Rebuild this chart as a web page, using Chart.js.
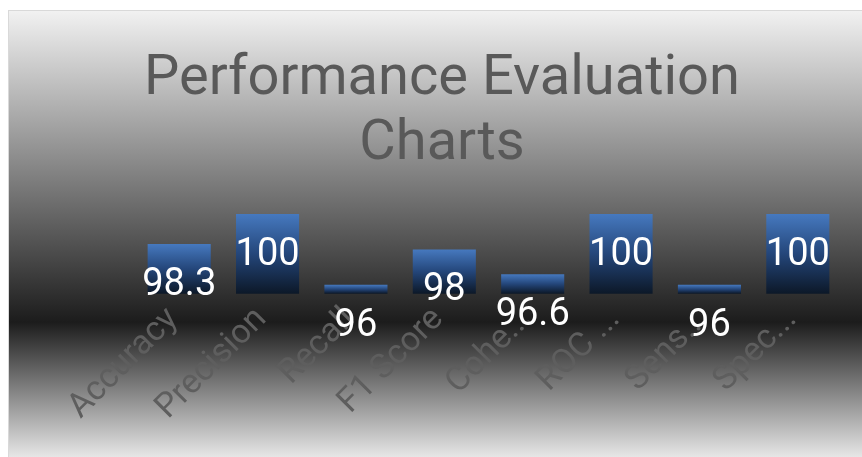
<!DOCTYPE html>
<html>
<head>
<meta charset="utf-8">
<title>Performance Evaluation Charts</title>
<script src="https://cdn.jsdelivr.net/npm/chart.js@4.4.1/dist/chart.umd.min.js"></script>
<style>
  html, body { margin: 0; padding: 0; background: #ffffff; }
  #wrap { width: 862px; height: 457px; }
</style>
</head>
<body>
<div id="wrap"><canvas id="chart" width="862" height="457"></canvas></div>
<script>
// values
const categories = ['Accuracy', 'Precision', 'Recall', 'F1 Score', 'Cohe...', 'ROC ...', 'Sens...', 'Spec...'];
const scores = [98.3, 100, 96, 98, 96.6, 100, 96, 100];
const axisMin = 95.5;
const axisMax = 100;
const titleLines = ['Performance Evaluation', 'Charts'];

// grey "spotlight" background inside the chart frame
const frameBackground = {
    id: 'frameBackground',
    beforeDraw(chart) {
        const c = chart.ctx;
        const g = c.createLinearGradient(0, 10, 0, 465);
        g.addColorStop(0, '#f2f2f2');
        g.addColorStop(0.686, '#1c1c1c');
        g.addColorStop(1, '#f2f2f2');
        c.save();
        c.fillStyle = g;
        c.fillRect(8, 10, chart.width - 8, chart.height - 10);
        c.strokeStyle = '#d9d9d9';
        c.lineWidth = 1;
        c.strokeRect(8.5, 10.5, chart.width, chart.height);
        c.restore();
    }
};

// white value labels, drawn inside each bar near its top
const valueLabels = {
    id: 'valueLabels',
    afterDatasetsDraw(chart) {
        const c = chart.ctx;
        const meta = chart.getDatasetMeta(0);
        c.save();
        c.font = '38px Roboto';
        c.fillStyle = '#ffffff';
        c.textAlign = 'center';
        c.textBaseline = 'alphabetic';
        meta.data.forEach((bar, i) => {
            c.fillText(String(scores[i]), bar.x, bar.y + 51);
        });
        c.restore();
    }
};

function barGradient(ctx) {
    const chart = ctx.chart;
    if (ctx.type !== 'data' || !chart.chartArea) {
        return '#2b5590';
    }
    const y = chart.scales.y;
    const top = y.getPixelForValue(ctx.raw);
    const bottom = y.getPixelForValue(axisMin);
    const g = chart.ctx.createLinearGradient(0, top, 0, bottom);
    g.addColorStop(0, '#4679bf');
    g.addColorStop(0.5, '#24467a');
    g.addColorStop(1, '#0c1828');
    return g;
}

new Chart(document.getElementById('chart'), {
    type: 'bar',
    data: {
        labels: categories,
        datasets: [{
            label: 'Score',
            data: scores,
            backgroundColor: barGradient,
            borderWidth: 0,
            categoryPercentage: 1,
            barPercentage: 0.714
        }]
    },
    options: {
        responsive: false,
        animation: false,
        devicePixelRatio: 1,
        layout: {
            padding: { left: 42, right: 20, top: 0, bottom: 23 }
        },
        plugins: {
            legend: { display: false },
            tooltip: { enabled: false },
            title: {
                display: true,
                text: titleLines,
                color: '#595959',
                font: { family: 'Roboto', size: 56, weight: 'normal', lineHeight: 1.17 },
                padding: { top: 47, bottom: 36 }
            }
        },
        scales: {
            x: {
                grid: { display: false, drawTicks: false },
                border: { display: false },
                ticks: {
                    color: '#5e5e5e',
                    font: { family: 'Roboto', size: 34 },
                    minRotation: 45,
                    maxRotation: 45,
                    autoSkip: false,
                    padding: 6,
                    labelOffset: -6
                }
            },
            y: {
                min: axisMin,
                max: axisMax,
                grid: { display: false, drawTicks: false },
                border: { display: false },
                ticks: { display: false },
                afterFit(scale) {
                    scale.width = 93;
                }
            }
        }
    },
    plugins: [frameBackground, valueLabels]
});
</script>
</body>
</html>
